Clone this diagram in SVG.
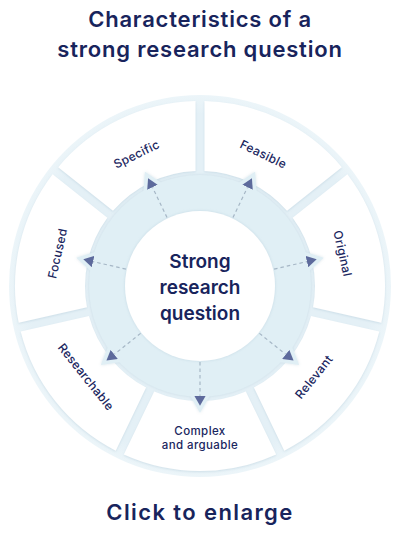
<svg xmlns="http://www.w3.org/2000/svg" width="400" height="539" viewBox="0 0 400 539">
<defs>
<style>
.title{font-family:Inter,"Noto Sans",sans-serif;font-weight:600;fill:#18245c;text-anchor:middle}
.lbl{font-family:Inter,"Noto Sans",sans-serif;font-weight:500;font-size:12px;letter-spacing:0.3px;fill:#1a2660;text-anchor:middle}
.lbl2{font-family:Inter,"Noto Sans",sans-serif;font-weight:500;font-size:11.5px;letter-spacing:0.4px;fill:#1a2660;text-anchor:middle}
.ctr{font-family:Inter,"Noto Sans",sans-serif;font-weight:600;font-size:19px;fill:#18245c;text-anchor:middle}
.seg{fill:#ffffff;filter:url(#sh)}
.dash{stroke:#a6b7c6;stroke-width:1.2;stroke-dasharray:3.5 3;fill:none;marker-end:url(#tri)}
.ptr{fill:#e0eff5}
</style>
<filter id="sh" x="-10%" y="-10%" width="120%" height="120%">
<feDropShadow dx="0" dy="1" stdDeviation="1.3" flood-color="#8fb0c4" flood-opacity="0.3"/>
</filter>
<filter id="sh2" x="-20%" y="-20%" width="140%" height="140%">
<feDropShadow dx="0" dy="0" stdDeviation="1.5" flood-color="#9bb9cb" flood-opacity="0.4"/>
</filter>
<radialGradient id="outer" cx="0.5" cy="0.5" r="0.5">
<stop offset="0.9" stop-color="#e4f0f6"/>
<stop offset="1" stop-color="#ecf5f9"/>
</radialGradient>
<marker id="tri" markerUnits="userSpaceOnUse" viewBox="0 0 10 11.5" refX="0" refY="5.75" markerWidth="10" markerHeight="11.5" orient="auto">
<path d="M0 0 L9.96 5.75 L0 11.5 Z" fill="#5d6a9c"/>
</marker>
</defs>
<rect width="400" height="539" fill="#ffffff"/>
<g id="title">
<text class="title" x="200" y="27" font-size="22" letter-spacing="0.8">Characteristics of a</text>
<text class="title" x="200" y="57" font-size="22" letter-spacing="0.8">strong research question</text>
</g>
<g id="wheel-bg">
<circle cx="200" cy="286" r="191" fill="url(#outer)"/>
</g>
<g id="node-feasible">
<path class="seg" d="M204.50 101.06 A185 185 0 0 1 341.79 167.17 L287.04 210.84 A115 115 0 0 0 204.50 171.09 Z"/>
<text class="lbl" x="200" y="144" transform="rotate(25.714 200 286)">Feasible</text>
</g>
<g id="node-original">
<path class="seg" d="M347.40 174.21 A185 185 0 0 1 381.31 322.77 L313.03 307.18 A115 115 0 0 0 292.65 217.87 Z"/>
<text class="lbl" x="200" y="144" transform="rotate(77.143 200 286)">Original</text>
</g>
<g id="node-relevant">
<path class="seg" d="M379.31 331.54 A185 185 0 0 1 284.30 450.68 L253.91 387.58 A115 115 0 0 0 311.03 315.96 Z"/>
<text class="lbl" x="200" y="436" transform="rotate(-51.429 200 286)">Relevant</text>
</g>
<g id="node-complex">
<path class="seg" d="M276.19 454.58 A185 185 0 0 1 123.81 454.58 L154.20 391.48 A115 115 0 0 0 245.80 391.48 Z"/>
<text class="lbl2" x="200" y="435">Complex</text>
<text class="lbl2" x="200" y="449">and arguable</text>
</g>
<g id="node-researchable">
<path class="seg" d="M115.70 450.68 A185 185 0 0 1 20.69 331.54 L88.97 315.96 A115 115 0 0 0 146.09 387.58 Z"/>
<text class="lbl" x="200" y="436" transform="rotate(51.429 200 286)">Researchable</text>
</g>
<g id="node-focused">
<path class="seg" d="M18.69 322.77 A185 185 0 0 1 52.60 174.21 L107.35 217.87 A115 115 0 0 0 86.97 307.18 Z"/>
<text class="lbl" x="200" y="144" transform="rotate(-77.143 200 286)">Focused</text>
</g>
<g id="node-specific">
<path class="seg" d="M58.21 167.17 A185 185 0 0 1 195.50 101.06 L195.50 171.09 A115 115 0 0 0 112.96 210.84 Z"/>
<text class="lbl" x="200" y="144" transform="rotate(-25.714 200 286)">Specific</text>
</g>
<g id="ring" filter="url(#sh2)">
<circle cx="200" cy="286" r="111" fill="#e0eff5"/>
<path class="ptr" d="M200 159.14 L212 179.93 L188 179.93 Z" transform="rotate(25.714 200 286)"/>
<path class="ptr" d="M200 159.14 L212 179.93 L188 179.93 Z" transform="rotate(77.143 200 286)"/>
<path class="ptr" d="M200 159.14 L212 179.93 L188 179.93 Z" transform="rotate(128.571 200 286)"/>
<path class="ptr" d="M200 159.14 L212 179.93 L188 179.93 Z" transform="rotate(180 200 286)"/>
<path class="ptr" d="M200 159.14 L212 179.93 L188 179.93 Z" transform="rotate(231.429 200 286)"/>
<path class="ptr" d="M200 159.14 L212 179.93 L188 179.93 Z" transform="rotate(282.857 200 286)"/>
<path class="ptr" d="M200 159.14 L212 179.93 L188 179.93 Z" transform="rotate(334.286 200 286)"/>
</g>
<g id="connectors">
<line class="dash" x1="200" y1="210" x2="200" y2="176.3" transform="rotate(25.714 200 286)"/>
<line class="dash" x1="200" y1="210" x2="200" y2="176.3" transform="rotate(77.143 200 286)"/>
<line class="dash" x1="200" y1="210" x2="200" y2="176.3" transform="rotate(128.571 200 286)"/>
<line class="dash" x1="200" y1="210" x2="200" y2="176.3" transform="rotate(180 200 286)"/>
<line class="dash" x1="200" y1="210" x2="200" y2="176.3" transform="rotate(231.429 200 286)"/>
<line class="dash" x1="200" y1="210" x2="200" y2="176.3" transform="rotate(282.857 200 286)"/>
<line class="dash" x1="200" y1="210" x2="200" y2="176.3" transform="rotate(334.286 200 286)"/>
</g>
<g id="node-center">
<circle cx="200" cy="286" r="75" fill="#ffffff" filter="url(#sh2)"/>
<text class="ctr" x="200" y="268">Strong</text>
<text class="ctr" x="200" y="294">research</text>
<text class="ctr" x="200" y="320">question</text>
</g>
<g id="footer">
<text class="title" x="200" y="520" font-size="22" font-weight="700" letter-spacing="1.4">Click to enlarge</text>
</g>
</svg>
